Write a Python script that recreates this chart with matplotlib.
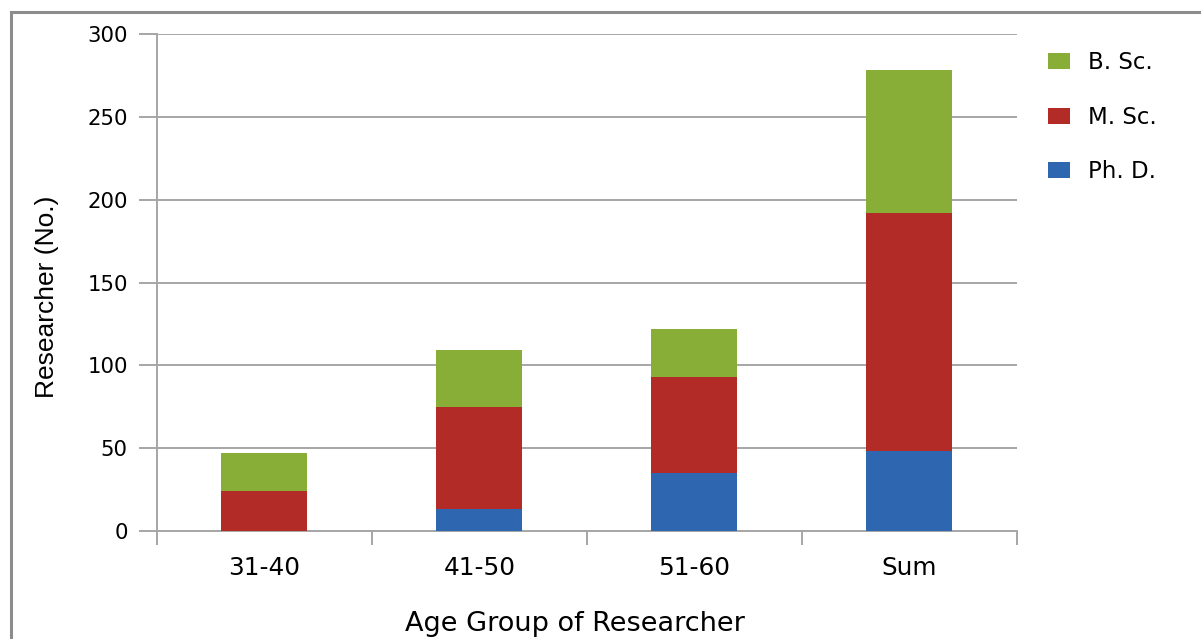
import numpy as np
import matplotlib.pyplot as plt
from matplotlib.patches import Rectangle

plt.rcParams['font.family'] = ['DejaVu Sans']

# Researchers per age group and degree
groups = ['31-40', '41-50', '51-60', 'Sum']
phd = [0, 13, 35, 48]
msc = [24, 62, 58, 144]
bsc = [23, 34, 29, 86]

colors = {'Ph. D.': '#2E67B0', 'M. Sc.': '#B22B27', 'B. Sc.': '#89AE38'}
grid_gray = '#A6A6A6'

fig = plt.figure(figsize=(12.01, 6.39), dpi=100)
ax = fig.add_axes([0.1307, 0.169, 0.716, 0.7778])

# Frame around the figure
fig.patches.append(Rectangle((0.0095, -0.05), 1.1, 1.0312, transform=fig.transFigure,
                             fill=False, edgecolor='#8C8C8C', linewidth=2.2))

x = np.arange(len(groups))
width = 0.4
bottom_msc = np.array(phd)
bottom_bsc = bottom_msc + np.array(msc)
ax.bar(x, phd, width, color=colors['Ph. D.'], label='Ph. D.', zorder=3)
ax.bar(x, msc, width, bottom=bottom_msc, color=colors['M. Sc.'], label='M. Sc.', zorder=3)
ax.bar(x, bsc, width, bottom=bottom_bsc, color=colors['B. Sc.'], label='B. Sc.', zorder=3)

ax.set_xlim(-0.5, len(groups) - 0.5)
ax.set_ylim(0, 300)
ax.set_yticks(np.arange(0, 301, 50))
ax.yaxis.grid(True, color=grid_gray, linewidth=1.4, zorder=0)
ax.set_axisbelow(True)

# Category ticks between groups, labels centred
ax.set_xticks(np.arange(-0.5, len(groups), 1.0))
ax.set_xticklabels([])
ax.set_xticks(x, minor=True)
ax.set_xticklabels(groups, minor=True, fontsize=17.8)
ax.tick_params(axis='x', which='major', length=10, width=1.4, color=grid_gray, direction='out')
ax.tick_params(axis='x', which='minor', length=0, pad=18)
ax.tick_params(axis='y', length=13, width=1.4, color=grid_gray, labelsize=15.3, pad=8)

for side in ['top', 'right']:
    ax.spines[side].set_visible(False)
for side in ['left', 'bottom']:
    ax.spines[side].set_color(grid_gray)
    ax.spines[side].set_linewidth(1.4)

ax.set_xlabel('Age Group of Researcher', fontsize=19.5)
ax.xaxis.set_label_coords(0.4866, -0.161)
ax.set_ylabel('Researcher (No.)', fontsize=19, family='Liberation Sans')
ax.yaxis.set_label_coords(-0.114, 0.471)

handles, labels = ax.get_legend_handles_labels()
ax.legend(handles[::-1], labels[::-1], loc='upper left', bbox_to_anchor=(1.02, 0.994),
          frameon=False, fontsize=16.5, labelspacing=1.39, handlelength=0.97,
          handleheight=0.7, handletextpad=0.8, borderaxespad=0.2)

fig.savefig('out.png', dpi=100)
